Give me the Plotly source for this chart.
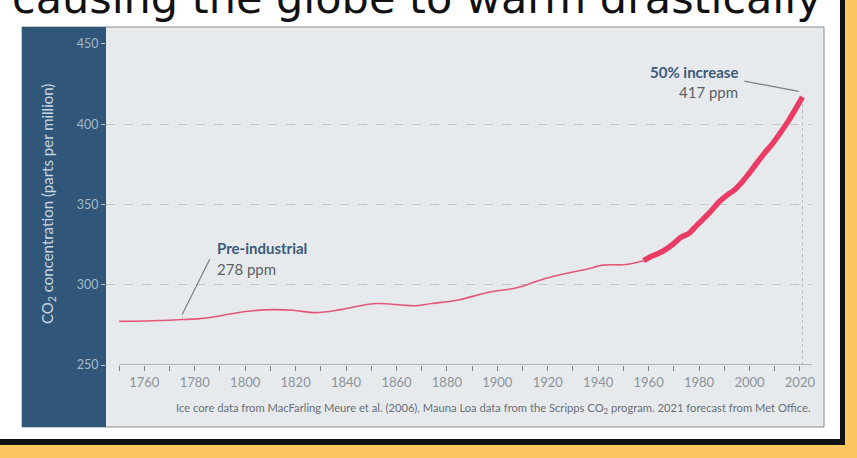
import plotly.graph_objects as go

# ice core record
ice_years = [1750, 1760, 1770, 1775, 1782, 1790, 1800, 1811, 1819, 1828, 1838, 1851, 1862,
             1867, 1874, 1884, 1897, 1904, 1910, 1919, 1927, 1935, 1942, 1951, 1958]
ice_ppm = [277.2, 277.4, 277.9, 278.3, 278.9, 280.6, 283.3, 284.5, 284.1, 282.6, 284.5, 288.2, 287.4,
           286.9, 288.3, 290.3, 295.5, 297.0, 299.1, 303.9, 307.0, 309.5, 312.2, 312.6, 314.9]

# Mauna Loa record + 2021 forecast
mlo_years = [1958, 1961, 1964, 1967, 1970, 1973, 1976, 1979, 1982, 1985, 1988, 1991,
             1994, 1997, 2000, 2003, 2006, 2009, 2012, 2015, 2018, 2021]
mlo_ppm = [315.0, 317.6, 319.6, 322.2, 325.7, 329.7, 332.0, 336.8, 341.5, 346.4, 351.7, 355.7,
           359.0, 363.9, 369.7, 376.0, 382.1, 387.6, 394.1, 401.0, 408.7, 417.0]

x_ticks = list(range(1760, 2021, 20))
y_ticks = [250, 300, 350, 400, 450]

pre_year, pre_ppm = 1775, 278

W, H = 857, 458
ML, MR, MT, MB = 106, 45, 43, 93
PW, PH = W - ML - MR, H - MT - MB


def px(x):
    return (x - ML) / PW


def py(y):
    return (H - MB - y) / PH


FONT = "Lato"

fig = go.Figure()
fig.add_trace(go.Scatter(x=ice_years, y=ice_ppm, mode="lines",
                         line=dict(color="#e4567a", width=1.6, shape="spline"),
                         hoverinfo="skip"))
fig.add_trace(go.Scatter(x=mlo_years, y=mlo_ppm, mode="lines",
                         line=dict(color="#ea3c64", width=5.5, shape="spline"),
                         hoverinfo="skip"))

shapes = [
    # card with black edge
    dict(type="rect", xref="paper", yref="paper", x0=px(-5), x1=px(845), y0=py(445), y1=py(-5),
         fillcolor="#111111", line=dict(width=0), layer="below"),
    dict(type="rect", xref="paper", yref="paper", x0=px(-5), x1=px(840), y0=py(439), y1=py(-5),
         fillcolor="white", line=dict(width=0), layer="below"),
    # chart panel and left band
    dict(type="rect", xref="paper", yref="paper", x0=px(22), x1=px(824), y0=py(427), y1=py(27),
         fillcolor="#e6eaed", line=dict(color="#8c8c8c", width=1), layer="below"),
    dict(type="rect", xref="paper", yref="paper", x0=px(22), x1=px(106), y0=py(427), y1=py(27),
         fillcolor="#30577a", line=dict(width=0), layer="below"),
    # x axis line starting at 1750
    dict(type="line", xref="x", yref="y", x0=ice_years[0], x1=2024.8, y0=250, y1=250,
         line=dict(color="#7d8287", width=1)),
    # forecast marker
    dict(type="line", xref="x", yref="y", x0=mlo_years[-1], x1=mlo_years[-1], y0=250, y1=mlo_ppm[-1],
         line=dict(color="#b3b9be", width=1, dash="dot"), layer="below"),
    # leader lines
    dict(type="line", xref="x", yref="y", x0=pre_year, y0=pre_ppm + 3.5, x1=pre_year + 11, y1=pre_ppm + 38,
         line=dict(color="#7a7f85", width=1.2)),
    dict(type="line", xref="x", yref="y", x0=mlo_years[-1] - 1.5, y0=mlo_ppm[-1] + 3.5,
         x1=mlo_years[-1] - 23, y1=mlo_ppm[-1] + 9.8,
         line=dict(color="#7a7f85", width=1.2)),
]

annotations = [
    dict(text="causing the globe to warm drastically", xref="paper", yref="paper",
         x=px(10), y=py(-2), xanchor="left", yanchor="middle", showarrow=False,
         font=dict(family="DejaVu Sans", size=43, color="#111111")),
    dict(text="CO<sub>2</sub> concentration (parts per million)", xref="paper", yref="paper",
         x=px(48), y=py(204), textangle=-90, xanchor="center", yanchor="middle", showarrow=False,
         font=dict(family=FONT, size=15, color="#c8d5e0")),
    dict(text="<b>Pre-industrial</b>", xref="paper", yref="paper", x=px(215), y=py(248),
         xanchor="left", yanchor="middle", showarrow=False,
         font=dict(family=FONT, size=15, color="#3c5a7a")),
    dict(text=f"{pre_ppm} ppm", xref="paper", yref="paper", x=px(215), y=py(269),
         xanchor="left", yanchor="middle", showarrow=False,
         font=dict(family=FONT, size=15, color="#5a5f64")),
    dict(text="<b>50% increase</b>", xref="paper", yref="paper", x=px(740), y=py(72),
         xanchor="right", yanchor="middle", showarrow=False,
         font=dict(family=FONT, size=15, color="#3c5a7a")),
    dict(text=f"{mlo_ppm[-1]:.0f} ppm", xref="paper", yref="paper", x=px(740), y=py(92),
         xanchor="right", yanchor="middle", showarrow=False,
         font=dict(family=FONT, size=15, color="#5a5f64")),
    dict(text="Ice core data from MacFarling Meure et al. (2006), Mauna Loa data from the Scripps "
              "CO<sub>2</sub> program. 2021 forecast from Met Office.",
         xref="paper", yref="paper", x=px(813), y=py(408), xanchor="right", yanchor="middle",
         showarrow=False, font=dict(family=FONT, size=11.2, color="#6a6f74")),
]

fig.update_layout(
    width=W, height=H,
    margin=dict(l=ML, r=MR, t=MT, b=MB),
    paper_bgcolor="#fcc760",
    plot_bgcolor="rgba(0,0,0,0)",
    showlegend=False,
    shapes=shapes,
    annotations=annotations,
    font=dict(family=FONT),
)
fig.update_xaxes(range=[1744.8, 2024.8], tickvals=x_ticks, ticks="outside", ticklen=5,
                 tickcolor="#7d8287", showgrid=False, zeroline=False, showline=False,
                 tickfont=dict(family=FONT, size=13, color="#8c9399"),
                 minor=dict(tick0=1750, dtick=10, ticks="outside", ticklen=5, tickcolor="#7d8287"))
fig.update_yaxes(range=[250, 450.6], tickvals=y_ticks, ticks="outside", ticklen=4,
                 tickcolor="#c0cad3", showgrid=True, gridcolor="#c3c8cc", griddash="dash",
                 gridwidth=1, zeroline=False, showline=False,
                 tickfont=dict(family=FONT, size=12.5, color="#a3b7c8"))

# page has an 8px body margin by default; drop it so the figure fills the window
fig.write_html("out.html", config={"displayModeBar": False},
               post_script="document.body.style.margin = '0';")
